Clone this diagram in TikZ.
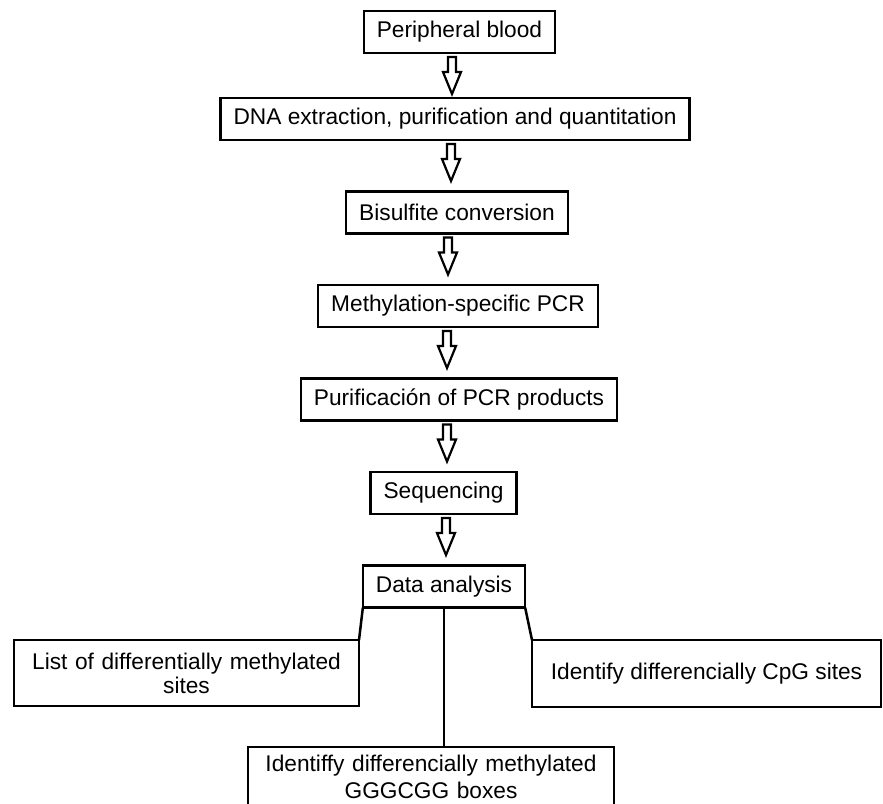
\documentclass[tikz,border=0pt]{standalone}
\usepackage{fontspec}
\setmainfont{Liberation Sans}
\usetikzlibrary{positioning,calc}

\begin{document}
\begin{tikzpicture}[x=1pt,y=-1pt,font=\fontsize{22.7}{24}\selectfont,node distance=51.5pt]
    \tikzset{stage/.style={draw,line width=2.5pt,outer sep=0pt,minimum height=42pt,inner xsep=13pt,align=center},
      hollow/.style={draw,line width=2.2pt,fill=white,line join=miter},
      link/.style={line width=2.5pt}}
    \useasboundingbox (0,0) rectangle (883,803);
    \clip (0,0) rectangle (883,803);
    \node[stage] (blood) at (459.5,32) {Peripheral blood};
    \node[stage,below=45pt of blood,xshift=-4.5pt] (dna) {DNA extraction, purification and quantitation};
    \node[stage,below=of dna,xshift=2pt] (bisulfite) {Bisulfite conversion};
    \node[stage,below=of bisulfite,xshift=1pt] (msp) {Methylation-specific PCR};
    \node[stage,below=of msp,xshift=1pt] (purif) {Purificación of PCR products};
    \node[stage,below=of purif,xshift=-15.5pt] (seq) {Sequencing};
    \node[stage,below=of seq,xshift=0.5pt] (analysis) {Data analysis};
    \foreach \u/\v/\x in {blood/dna/452,dna/bisulfite/451,bisulfite/msp/448,msp/purif/447,purif/seq/447,seq/analysis/446}
      \draw[hollow] (\x,0 |- \u.south) ++(-4,4) -- ++(0,15) -- ++(-5,0) -- ++(9,22) -- ++(9,-22) -- ++(-5,0) -- ++(0,-15) -- cycle;
    \node[stage,text width=319pt,minimum height=66pt] (sites) at (186.5,673) {List of differentially methylated\\ sites};
    \node[stage,minimum width=349pt,minimum height=67pt] (cpg) at (706.5,673.5) {Identify differencially CpG sites};
    \node[stage,text width=340pt,inner ysep=8pt,anchor=north,font=\fontsize{22.7}{27}\selectfont] (ggg) at (431,747) {Identiffy differencially methylated\\ GGGCGG boxes};
    \draw[link] (analysis.south west) -- (sites.north east);
    \draw[link] (analysis.south east) -- (cpg.north west);
    \draw[link] (analysis.south) -- (analysis.south |- ggg.north);
  \end{tikzpicture}
\end{document}
